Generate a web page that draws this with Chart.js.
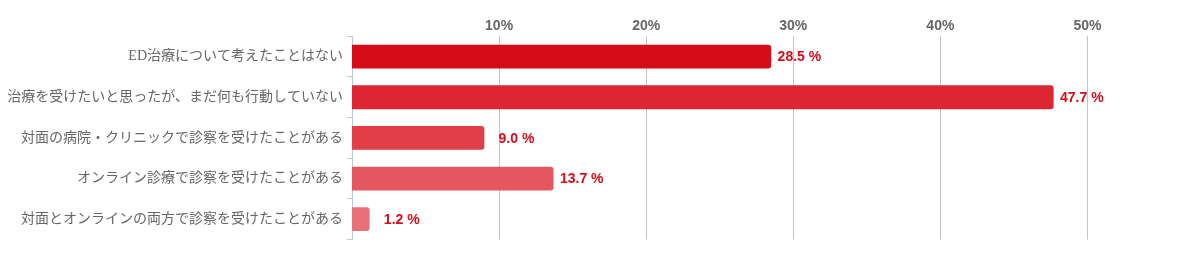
<!DOCTYPE html>
<html>
<head>
<meta charset="utf-8">
<script src="https://cdn.jsdelivr.net/npm/chart.js@4/dist/chart.umd.min.js"></script>
<style>
  html, body { margin: 0; padding: 0; background: #fff; }
  #wrap { width: 1188px; height: 255px; }
</style>
</head>
<body>
<div id="wrap"><canvas id="myChart" width="1188" height="255"></canvas></div>
<script>
// ラベルと値
var categories = [
    "ED治療について考えたことはない",
    "治療を受けたいと思ったが、まだ何も行動していない",
    "対面の病院・クリニックで診察を受けたことがある",
    "オンライン診療で診察を受けたことがある",
    "対面とオンラインの両方で診察を受けたことがある"
];
var values = [28.5, 47.7, 9.0, 13.7, 1.2];
var barColors = ["#d70c19", "#dc2631", "#e03f48", "#e4575f", "#e87078"];
var tickValues = [10, 20, 30, 40, 50];

// 値ラベル (バーの右に右寄せで描く)
var valueLabels = {
    id: 'valueLabels',
    afterDatasetsDraw: function (chart) {
        var ctx = chart.ctx;
        var meta = chart.getDatasetMeta(0);
        ctx.save();
        ctx.font = "bold 14px 'Liberation Sans', Arial, sans-serif";
        ctx.fillStyle = "#d70c19";
        ctx.textAlign = "right";
        ctx.textBaseline = "middle";
        meta.data.forEach(function (bar, i) {
            ctx.fillText(values[i].toFixed(1) + " %", bar.x + 50, bar.y + 1);
        });
        ctx.restore();
    }
};

var ctx = document.getElementById("myChart").getContext("2d");

new Chart(ctx, {
    type: "bar",
    data: {
        labels: categories,
        datasets: [{
            data: values,
            backgroundColor: barColors,
            borderRadius: 3,
            borderSkipped: "start",
            barPercentage: 0.585,
            categoryPercentage: 1
        }]
    },
    options: {
        indexAxis: "y",
        responsive: false,
        animation: false,
        layout: { padding: { top: 16.5, bottom: 15.5, left: 0, right: 27 } },
        plugins: {
            legend: { display: false },
            tooltip: { enabled: false }
        },
        scales: {
            x: {
                position: "top",
                min: 0,
                max: 55,
                afterBuildTicks: function (axis) {
                    axis.ticks = tickValues.map(function (v) { return { value: v }; });
                },
                border: { display: false },
                grid: { color: "#c4c4c4", lineWidth: 1, drawTicks: false },
                ticks: {
                    padding: 1.5,
                    color: "#666",
                    font: { family: "'Liberation Sans', Arial, sans-serif", size: 14, weight: "bold" },
                    callback: function (v) { return v + "%"; }
                }
            },
            y: {
                afterFit: function (axis) { axis.width = 352; },
                border: { display: true, color: "#b8c9de", width: 1 },
                grid: {
                    offset: true,
                    drawOnChartArea: false,
                    drawTicks: true,
                    tickLength: 5,
                    color: "#b8c9de"
                },
                ticks: {
                    padding: 4,
                    color: "#666",
                    font: { family: "'Liberation Serif', 'Noto Sans CJK JP', serif", size: 14 }
                }
            }
        }
    },
    plugins: [valueLabels]
});
</script>
</body>
</html>
